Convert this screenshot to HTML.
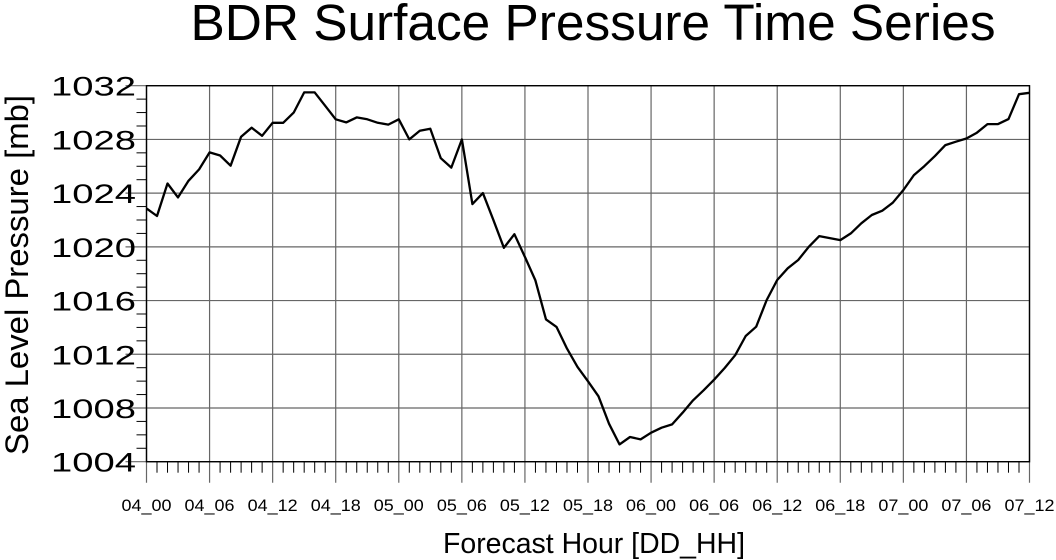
<!DOCTYPE html>
<html><head><meta charset="utf-8"><style>
body{margin:0;background:#fff}
svg{display:block;font-family:"Liberation Sans",sans-serif}
</style></head><body>
<svg id="c" width="1056" height="560" xmlns="http://www.w3.org/2000/svg">
<text x="593" y="40" font-size="51" text-anchor="middle" textLength="805" lengthAdjust="spacingAndGlyphs">BDR Surface Pressure Time Series</text>
<text x="594" y="553" font-size="28.5" text-anchor="middle" textLength="302" lengthAdjust="spacingAndGlyphs">Forecast Hour [DD_HH]</text>
<text transform="translate(28,275) rotate(-90)" font-size="32" text-anchor="middle" textLength="360" lengthAdjust="spacingAndGlyphs">Sea Level Pressure [mb]</text>
<g id="grid"></g><g id="ticks"></g><g id="labels"></g>
<path id="line" fill="none" stroke="#000" stroke-width="2.3" stroke-linejoin="round"/>
<rect x="146.5" y="85.7" width="883" height="376" fill="none" stroke="#000" stroke-width="1.4"/>
</svg>
<script>
const pressure=[1022.86,1022.3,1024.72,1023.68,1024.92,1025.77,1027.03,1026.8,1026.04,1028.2,1028.87,1028.27,1029.24,1029.24,1030.0,1031.5,1031.5,1030.5,1029.5,1029.27,1029.64,1029.5,1029.24,1029.1,1029.5,1028.0,1028.65,1028.8,1026.6,1025.9,1028.0,1023.18,1024.0,1021.99,1019.93,1020.94,1019.25,1017.5,1014.6,1014.04,1012.42,1011.06,1009.99,1008.87,1006.83,1005.29,1005.84,1005.66,1006.16,1006.53,1006.78,1007.65,1008.57,1009.32,1010.11,1010.98,1011.93,1013.36,1014.05,1016.04,1017.53,1018.4,1019.02,1020.0,1020.8,1020.65,1020.5,1021.0,1021.75,1022.37,1022.69,1023.29,1024.23,1025.34,1026.01,1026.76,1027.58,1027.83,1028.07,1028.5,1029.14,1029.14,1029.51,1031.37,1031.47];
const xTickLabels=["04_00","04_06","04_12","04_18","05_00","05_06","05_12","05_18","06_00","06_06","06_12","06_18","07_00","07_06","07_12"];
const yTicks=[1004,1008,1012,1016,1020,1024,1028,1032];
const X0=146.5,X1=1029.5,Y0=461.7,Y1=85.7,HMAX=84,PMIN=1004,PMAX=1032;
const xs=h=>X0+(X1-X0)*h/HMAX;
const ys=p=>Y0-(Y0-Y1)*(p-PMIN)/(PMAX-PMIN);
const NS="http://www.w3.org/2000/svg";
function mk(tag,attrs,parent){const e=document.createElementNS(NS,tag);for(const k in attrs)e.setAttribute(k,attrs[k]);document.getElementById(parent).appendChild(e);return e;}
xTickLabels.forEach((l,i)=>{const x=xs(i*6);
 const g=mk('line',{x1:x,x2:x,y1:Y1,y2:Y0+21,stroke:'#666','stroke-width':1.2},'grid');
 
 
 const t=mk('text',{x:x,y:511,'font-size':17,'text-anchor':'middle',textLength:50,lengthAdjust:'spacingAndGlyphs'},'labels');t.textContent=l;
 
 
});
for(let h=0;h<=HMAX;h++){if(h%6===0)continue;const x=xs(h);
 const m=mk('line',{x1:x,x2:x,y1:Y0,y2:Y0+11,stroke:'#000','stroke-width':1},'ticks');
 
 }
yTicks.forEach(v=>{const y=ys(v);
 const g=mk('line',{x1:X0-21,x2:X1,y1:y,y2:y,stroke:'#666','stroke-width':1.2},'grid');
 
 
 const t=mk('text',{x:136,y:y+10,'font-size':27,'text-anchor':'end',textLength:85,lengthAdjust:'spacingAndGlyphs'},'labels');t.textContent=v;
 
 
});
for(let p=PMIN;p<=PMAX;p++){if(p%4===0)continue;const y=ys(p);
 const m=mk('line',{x1:X0-10,x2:X0,y1:y,y2:y,stroke:'#000','stroke-width':1},'ticks');
 
 }
document.getElementById('line').setAttribute('d',pressure.map((p,h)=>(h?'L':'M')+xs(h).toFixed(1)+','+ys(p).toFixed(1)).join(''));
</script>
</body></html>
